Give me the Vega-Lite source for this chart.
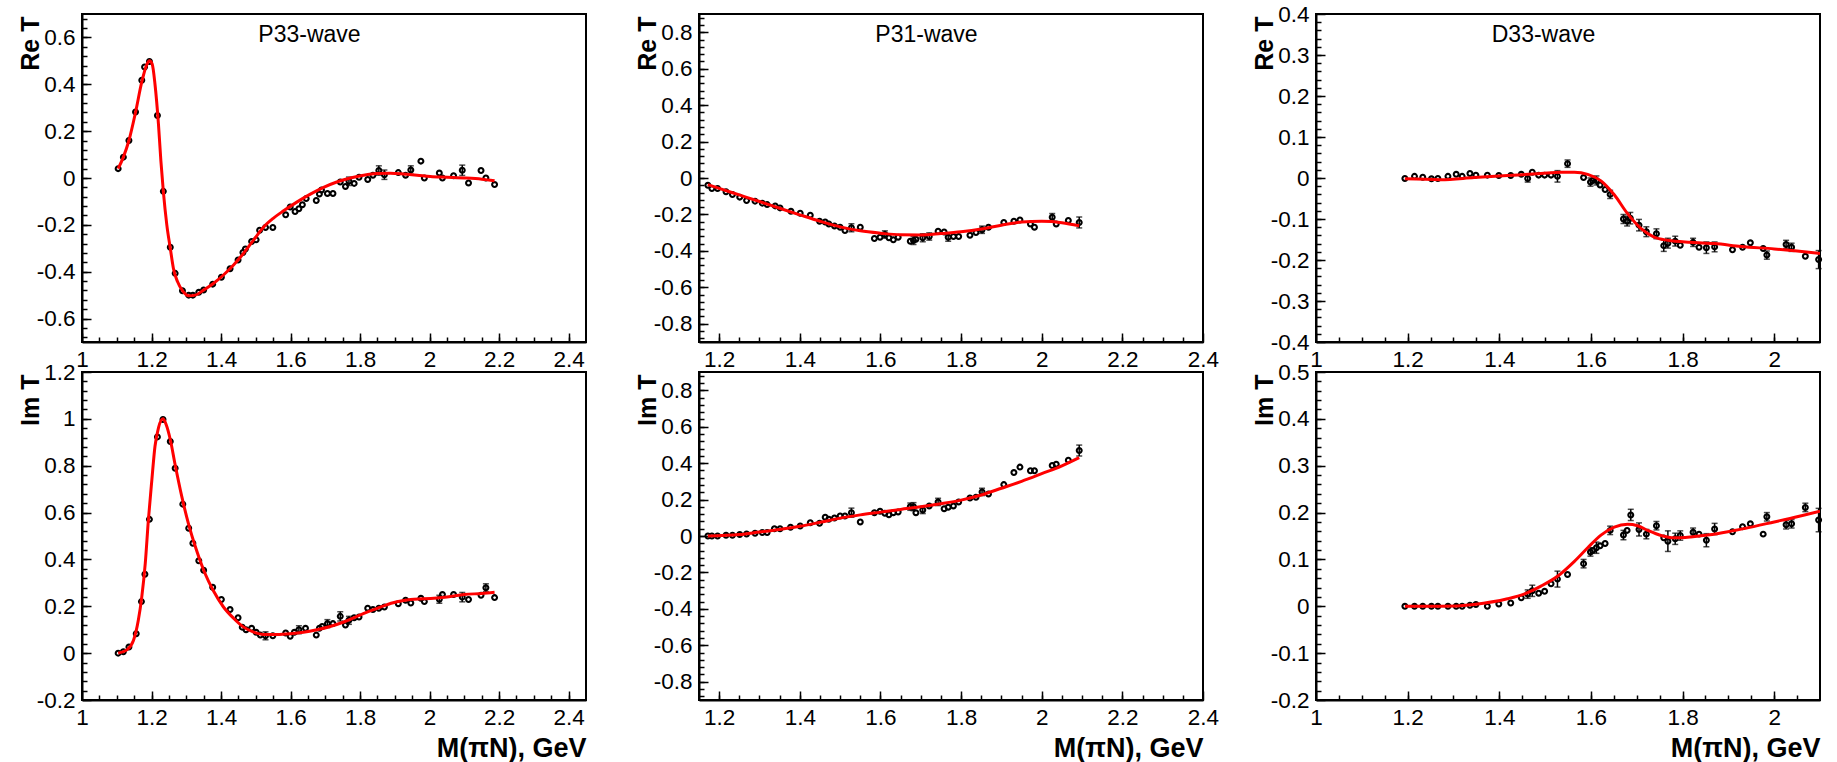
{
  "$schema": "https://vega.github.io/schema/vega-lite/v6.json",
  "padding": {"left": 17, "top": 2, "right": 5, "bottom": 0},
  "background": "white",
  "config": {
    "font": "Liberation Sans",
    "locale": {"number": {"decimal": ".", "thousands": ",", "grouping": [3], "currency": ["$", ""], "minus": "-"}},
    "view": {"stroke": "black", "strokeWidth": 2},
    "axis": {
      "grid": false,
      "domainColor": "black",
      "domainWidth": 2,
      "tickColor": "black",
      "tickWidth": 1.5,
      "labelFont": "Liberation Sans",
      "labelFontSize": 22.5,
      "labelColor": "black",
      "labelOverlap": false,
      "labelFlush": false,
      "titleFont": "Liberation Sans",
      "titleFontSize": 25,
      "titleFontWeight": "bold",
      "titleColor": "black"
    }
  },
  "datasets": {
    "p33re": [
      {"x":1.104,"y":0.040,"err":0},{"x":1.119,"y":0.089,"err":0},{"x":1.135,"y":0.160,"err":0},{"x":1.154,"y":0.282,"err":0},{"x":1.172,"y":0.417,"err":0},{"x":1.180,"y":0.474,"err":0},{"x":1.194,"y":0.497,"err":0},{"x":1.217,"y":0.267,"err":0},{"x":1.234,"y":-0.057,"err":0},{"x":1.254,"y":-0.296,"err":0},{"x":1.268,"y":-0.407,"err":0},{"x":1.289,"y":-0.481,"err":0},{"x":1.307,"y":-0.500,"err":0},{"x":1.319,"y":-0.500,"err":0},{"x":1.336,"y":-0.488,"err":0},{"x":1.350,"y":-0.478,"err":0},{"x":1.376,"y":-0.453,"err":0},{"x":1.401,"y":-0.424,"err":0},{"x":1.426,"y":-0.387,"err":0},{"x":1.449,"y":-0.350,"err":0},{"x":1.463,"y":-0.318,"err":0},{"x":1.470,"y":-0.303,"err":0},{"x":1.488,"y":-0.271,"err":0},{"x":1.501,"y":-0.264,"err":0},{"x":1.511,"y":-0.223,"err":0},{"x":1.528,"y":-0.211,"err":0},{"x":1.549,"y":-0.211,"err":0},{"x":1.586,"y":-0.157,"err":0},{"x":1.599,"y":-0.124,"err":0},{"x":1.613,"y":-0.143,"err":0},{"x":1.624,"y":-0.131,"err":0},{"x":1.634,"y":-0.114,"err":0},{"x":1.645,"y":-0.088,"err":0},{"x":1.674,"y":-0.096,"err":0},{"x":1.683,"y":-0.068,"err":0},{"x":1.689,"y":-0.051,"err":0},{"x":1.706,"y":-0.066,"err":0},{"x":1.722,"y":-0.066,"err":0},{"x":1.743,"y":-0.017,"err":0},{"x":1.758,"y":-0.036,"err":0},{"x":1.768,"y":-0.014,"err":0.018},{"x":1.783,"y":-0.023,"err":0},{"x":1.797,"y":0.003,"err":0},{"x":1.822,"y":-0.006,"err":0},{"x":1.837,"y":0.012,"err":0},{"x":1.854,"y":0.032,"err":0.02},{"x":1.870,"y":0.014,"err":0.02},{"x":1.910,"y":0.023,"err":0},{"x":1.931,"y":0.012,"err":0},{"x":1.946,"y":0.034,"err":0.018},{"x":1.975,"y":0.072,"err":0},{"x":1.985,"y":0.000,"err":0},{"x":2.028,"y":0.021,"err":0},{"x":2.037,"y":0.000,"err":0},{"x":2.069,"y":0.010,"err":0},{"x":2.094,"y":0.033,"err":0.022},{"x":2.112,"y":-0.021,"err":0},{"x":2.148,"y":0.032,"err":0},{"x":2.162,"y":0.000,"err":0},{"x":2.187,"y":-0.028,"err":0}
    ],
    "p33re_fit": [
      {"x":1.104,"y":0.040},{"x":1.119,"y":0.089},{"x":1.135,"y":0.160},{"x":1.154,"y":0.280},{"x":1.172,"y":0.410},{"x":1.187,"y":0.486},{"x":1.194,"y":0.500},{"x":1.202,"y":0.486},{"x":1.210,"y":0.400},{"x":1.220,"y":0.229},{"x":1.227,"y":0.072},{"x":1.234,"y":-0.057},{"x":1.244,"y":-0.200},{"x":1.254,"y":-0.300},{"x":1.263,"y":-0.386},{"x":1.275,"y":-0.443},{"x":1.290,"y":-0.483},{"x":1.307,"y":-0.503},{"x":1.326,"y":-0.500},{"x":1.350,"y":-0.478},{"x":1.378,"y":-0.450},{"x":1.407,"y":-0.414},{"x":1.436,"y":-0.371},{"x":1.465,"y":-0.321},{"x":1.494,"y":-0.264},{"x":1.522,"y":-0.210},{"x":1.551,"y":-0.171},{"x":1.580,"y":-0.140},{"x":1.618,"y":-0.103},{"x":1.657,"y":-0.069},{"x":1.695,"y":-0.040},{"x":1.733,"y":-0.017},{"x":1.772,"y":0.000},{"x":1.810,"y":0.012},{"x":1.848,"y":0.019},{"x":1.887,"y":0.020},{"x":1.925,"y":0.017},{"x":1.964,"y":0.012},{"x":2.002,"y":0.006},{"x":2.05,"y":0.003},{"x":2.1,"y":0.000},{"x":2.15,"y":-0.005},{"x":2.187,"y":-0.012}
    ],
    "p33im": [
      {"x":1.104,"y":0.000,"err":0},{"x":1.119,"y":0.006,"err":0},{"x":1.135,"y":0.026,"err":0},{"x":1.156,"y":0.083,"err":0},{"x":1.171,"y":0.220,"err":0},{"x":1.181,"y":0.337,"err":0},{"x":1.194,"y":0.571,"err":0},{"x":1.217,"y":0.923,"err":0},{"x":1.233,"y":0.997,"err":0},{"x":1.254,"y":0.903,"err":0},{"x":1.268,"y":0.789,"err":0},{"x":1.290,"y":0.636,"err":0},{"x":1.307,"y":0.533,"err":0},{"x":1.319,"y":0.469,"err":0},{"x":1.336,"y":0.394,"err":0},{"x":1.350,"y":0.354,"err":0},{"x":1.376,"y":0.281,"err":0},{"x":1.401,"y":0.229,"err":0},{"x":1.426,"y":0.186,"err":0},{"x":1.449,"y":0.151,"err":0},{"x":1.461,"y":0.111,"err":0},{"x":1.472,"y":0.100,"err":0},{"x":1.488,"y":0.106,"err":0},{"x":1.501,"y":0.089,"err":0},{"x":1.513,"y":0.077,"err":0},{"x":1.528,"y":0.074,"err":0.017},{"x":1.549,"y":0.074,"err":0},{"x":1.586,"y":0.086,"err":0},{"x":1.599,"y":0.072,"err":0},{"x":1.611,"y":0.089,"err":0},{"x":1.624,"y":0.100,"err":0.017},{"x":1.643,"y":0.106,"err":0},{"x":1.674,"y":0.077,"err":0},{"x":1.683,"y":0.106,"err":0},{"x":1.691,"y":0.114,"err":0},{"x":1.706,"y":0.126,"err":0.017},{"x":1.722,"y":0.126,"err":0},{"x":1.743,"y":0.157,"err":0.02},{"x":1.758,"y":0.120,"err":0},{"x":1.768,"y":0.140,"err":0.017},{"x":1.783,"y":0.151,"err":0},{"x":1.797,"y":0.154,"err":0},{"x":1.822,"y":0.192,"err":0},{"x":1.837,"y":0.186,"err":0},{"x":1.854,"y":0.192,"err":0},{"x":1.870,"y":0.197,"err":0},{"x":1.910,"y":0.211,"err":0},{"x":1.931,"y":0.226,"err":0},{"x":1.946,"y":0.214,"err":0},{"x":1.975,"y":0.234,"err":0},{"x":1.985,"y":0.220,"err":0},{"x":2.028,"y":0.230,"err":0.017},{"x":2.037,"y":0.250,"err":0},{"x":2.069,"y":0.250,"err":0},{"x":2.094,"y":0.239,"err":0.02},{"x":2.112,"y":0.229,"err":0},{"x":2.148,"y":0.247,"err":0},{"x":2.162,"y":0.279,"err":0.017},{"x":2.187,"y":0.237,"err":0}
    ],
    "p33im_fit": [
      {"x":1.104,"y":0.000},{"x":1.129,"y":0.014},{"x":1.148,"y":0.054},{"x":1.162,"y":0.140},{"x":1.172,"y":0.240},{"x":1.182,"y":0.383},{"x":1.191,"y":0.569},{"x":1.201,"y":0.740},{"x":1.210,"y":0.883},{"x":1.220,"y":0.962},{"x":1.233,"y":1.000},{"x":1.242,"y":0.976},{"x":1.254,"y":0.912},{"x":1.268,"y":0.804},{"x":1.287,"y":0.669},{"x":1.306,"y":0.554},{"x":1.330,"y":0.437},{"x":1.354,"y":0.340},{"x":1.378,"y":0.266},{"x":1.407,"y":0.197},{"x":1.436,"y":0.149},{"x":1.465,"y":0.111},{"x":1.494,"y":0.090},{"x":1.522,"y":0.080},{"x":1.561,"y":0.080},{"x":1.599,"y":0.083},{"x":1.637,"y":0.089},{"x":1.676,"y":0.100},{"x":1.714,"y":0.114},{"x":1.753,"y":0.133},{"x":1.791,"y":0.157},{"x":1.829,"y":0.180},{"x":1.868,"y":0.202},{"x":1.906,"y":0.219},{"x":1.945,"y":0.229},{"x":1.983,"y":0.232},{"x":2.05,"y":0.240},{"x":2.1,"y":0.250},{"x":2.15,"y":0.255},{"x":2.187,"y":0.260}
    ],
    "p31re": [
      {"x":1.172,"y":-0.040,"err":0},{"x":1.182,"y":-0.058,"err":0},{"x":1.196,"y":-0.058,"err":0},{"x":1.217,"y":-0.076,"err":0},{"x":1.233,"y":-0.091,"err":0},{"x":1.251,"y":-0.105,"err":0},{"x":1.268,"y":-0.124,"err":0},{"x":1.289,"y":-0.127,"err":0},{"x":1.307,"y":-0.138,"err":0},{"x":1.319,"y":-0.146,"err":0},{"x":1.339,"y":-0.153,"err":0},{"x":1.351,"y":-0.164,"err":0},{"x":1.378,"y":-0.182,"err":0},{"x":1.401,"y":-0.193,"err":0},{"x":1.426,"y":-0.204,"err":0},{"x":1.449,"y":-0.237,"err":0},{"x":1.463,"y":-0.241,"err":0},{"x":1.472,"y":-0.252,"err":0},{"x":1.486,"y":-0.263,"err":0},{"x":1.500,"y":-0.270,"err":0},{"x":1.512,"y":-0.288,"err":0},{"x":1.528,"y":-0.273,"err":0.022},{"x":1.550,"y":-0.270,"err":0},{"x":1.585,"y":-0.332,"err":0},{"x":1.599,"y":-0.325,"err":0},{"x":1.611,"y":-0.310,"err":0.02},{"x":1.621,"y":-0.328,"err":0},{"x":1.632,"y":-0.339,"err":0},{"x":1.644,"y":-0.325,"err":0},{"x":1.674,"y":-0.347,"err":0},{"x":1.682,"y":-0.343,"err":0.022},{"x":1.688,"y":-0.336,"err":0},{"x":1.705,"y":-0.328,"err":0.022},{"x":1.721,"y":-0.321,"err":0.02},{"x":1.743,"y":-0.292,"err":0},{"x":1.758,"y":-0.296,"err":0},{"x":1.768,"y":-0.325,"err":0.022},{"x":1.781,"y":-0.321,"err":0},{"x":1.794,"y":-0.321,"err":0},{"x":1.822,"y":-0.314,"err":0},{"x":1.837,"y":-0.299,"err":0},{"x":1.852,"y":-0.284,"err":0.02},{"x":1.868,"y":-0.270,"err":0},{"x":1.906,"y":-0.244,"err":0},{"x":1.931,"y":-0.237,"err":0},{"x":1.946,"y":-0.230,"err":0},{"x":1.972,"y":-0.252,"err":0},{"x":1.982,"y":-0.270,"err":0},{"x":2.026,"y":-0.215,"err":0.02},{"x":2.036,"y":-0.252,"err":0},{"x":2.066,"y":-0.233,"err":0},{"x":2.093,"y":-0.244,"err":0.03}
    ],
    "p31re_fit": [
      {"x":1.172,"y":-0.036},{"x":1.2,"y":-0.057},{"x":1.25,"y":-0.093},{"x":1.3,"y":-0.129},{"x":1.35,"y":-0.166},{"x":1.4,"y":-0.202},{"x":1.45,"y":-0.237},{"x":1.5,"y":-0.268},{"x":1.55,"y":-0.290},{"x":1.6,"y":-0.303},{"x":1.65,"y":-0.312},{"x":1.7,"y":-0.313},{"x":1.75,"y":-0.305},{"x":1.8,"y":-0.295},{"x":1.85,"y":-0.280},{"x":1.9,"y":-0.259},{"x":1.95,"y":-0.242},{"x":2.0,"y":-0.238},{"x":2.05,"y":-0.245},{"x":2.093,"y":-0.262}
    ],
    "p31im": [
      {"x":1.172,"y":0.000,"err":0},{"x":1.182,"y":0.000,"err":0},{"x":1.196,"y":0.000,"err":0},{"x":1.217,"y":0.004,"err":0},{"x":1.233,"y":0.004,"err":0},{"x":1.251,"y":0.008,"err":0},{"x":1.268,"y":0.011,"err":0},{"x":1.289,"y":0.015,"err":0},{"x":1.307,"y":0.019,"err":0},{"x":1.319,"y":0.019,"err":0},{"x":1.337,"y":0.040,"err":0},{"x":1.351,"y":0.040,"err":0},{"x":1.377,"y":0.048,"err":0},{"x":1.401,"y":0.055,"err":0},{"x":1.426,"y":0.073,"err":0},{"x":1.449,"y":0.070,"err":0},{"x":1.463,"y":0.103,"err":0},{"x":1.472,"y":0.092,"err":0},{"x":1.486,"y":0.099,"err":0},{"x":1.500,"y":0.110,"err":0},{"x":1.512,"y":0.110,"err":0},{"x":1.528,"y":0.128,"err":0.025},{"x":1.550,"y":0.077,"err":0},{"x":1.585,"y":0.128,"err":0},{"x":1.599,"y":0.136,"err":0},{"x":1.611,"y":0.125,"err":0},{"x":1.621,"y":0.117,"err":0},{"x":1.632,"y":0.128,"err":0},{"x":1.644,"y":0.132,"err":0},{"x":1.674,"y":0.161,"err":0.02},{"x":1.682,"y":0.161,"err":0.022},{"x":1.688,"y":0.128,"err":0},{"x":1.705,"y":0.143,"err":0.02},{"x":1.721,"y":0.165,"err":0},{"x":1.743,"y":0.187,"err":0.02},{"x":1.758,"y":0.150,"err":0},{"x":1.768,"y":0.158,"err":0},{"x":1.781,"y":0.165,"err":0},{"x":1.794,"y":0.187,"err":0},{"x":1.822,"y":0.209,"err":0},{"x":1.837,"y":0.213,"err":0},{"x":1.852,"y":0.242,"err":0.02},{"x":1.868,"y":0.231,"err":0},{"x":1.906,"y":0.282,"err":0},{"x":1.931,"y":0.348,"err":0},{"x":1.946,"y":0.378,"err":0},{"x":1.972,"y":0.358,"err":0},{"x":1.982,"y":0.358,"err":0},{"x":2.026,"y":0.387,"err":0},{"x":2.036,"y":0.394,"err":0},{"x":2.066,"y":0.416,"err":0},{"x":2.093,"y":0.469,"err":0.03}
    ],
    "p31im_fit": [
      {"x":1.172,"y":0.000},{"x":1.25,"y":0.008},{"x":1.3,"y":0.022},{"x":1.35,"y":0.036},{"x":1.4,"y":0.053},{"x":1.45,"y":0.075},{"x":1.5,"y":0.098},{"x":1.55,"y":0.116},{"x":1.6,"y":0.131},{"x":1.65,"y":0.146},{"x":1.7,"y":0.160},{"x":1.75,"y":0.177},{"x":1.8,"y":0.197},{"x":1.85,"y":0.225},{"x":1.9,"y":0.262},{"x":1.95,"y":0.300},{"x":2.0,"y":0.342},{"x":2.05,"y":0.385},{"x":2.093,"y":0.430}
    ],
    "d33re": [
      {"x":1.194,"y":-0.001,"err":0},{"x":1.215,"y":0.004,"err":0},{"x":1.233,"y":0.002,"err":0},{"x":1.252,"y":-0.002,"err":0},{"x":1.266,"y":-0.001,"err":0},{"x":1.288,"y":0.004,"err":0},{"x":1.306,"y":0.009,"err":0},{"x":1.319,"y":0.004,"err":0},{"x":1.336,"y":0.011,"err":0},{"x":1.349,"y":0.007,"err":0},{"x":1.374,"y":0.007,"err":0},{"x":1.399,"y":0.006,"err":0},{"x":1.425,"y":0.006,"err":0},{"x":1.448,"y":0.009,"err":0},{"x":1.462,"y":-0.001,"err":0.009},{"x":1.472,"y":0.014,"err":0},{"x":1.486,"y":0.007,"err":0},{"x":1.499,"y":0.007,"err":0},{"x":1.513,"y":0.007,"err":0},{"x":1.527,"y":0.004,"err":0.014},{"x":1.549,"y":0.035,"err":0.009},{"x":1.584,"y":0.001,"err":0},{"x":1.599,"y":-0.010,"err":0.01},{"x":1.604,"y":-0.006,"err":0},{"x":1.612,"y":-0.006,"err":0.011},{"x":1.620,"y":-0.017,"err":0},{"x":1.631,"y":-0.028,"err":0},{"x":1.642,"y":-0.040,"err":0.01},{"x":1.671,"y":-0.100,"err":0.011},{"x":1.679,"y":-0.105,"err":0.012},{"x":1.686,"y":-0.098,"err":0.014},{"x":1.705,"y":-0.115,"err":0.014},{"x":1.721,"y":-0.131,"err":0.012},{"x":1.743,"y":-0.136,"err":0.012},{"x":1.759,"y":-0.165,"err":0.014},{"x":1.768,"y":-0.159,"err":0.012},{"x":1.784,"y":-0.154,"err":0.012},{"x":1.795,"y":-0.164,"err":0},{"x":1.823,"y":-0.157,"err":0.01},{"x":1.836,"y":-0.169,"err":0},{"x":1.852,"y":-0.170,"err":0.014},{"x":1.870,"y":-0.168,"err":0.012},{"x":1.909,"y":-0.175,"err":0},{"x":1.931,"y":-0.169,"err":0},{"x":1.948,"y":-0.158,"err":0},{"x":1.976,"y":-0.172,"err":0},{"x":1.984,"y":-0.188,"err":0.01},{"x":2.026,"y":-0.162,"err":0.01},{"x":2.038,"y":-0.169,"err":0.01},{"x":2.068,"y":-0.191,"err":0},{"x":2.097,"y":-0.199,"err":0.022}
    ],
    "d33re_fit": [
      {"x":1.194,"y":-0.002},{"x":1.272,"y":-0.004},{"x":1.345,"y":0.001},{"x":1.418,"y":0.006},{"x":1.491,"y":0.011},{"x":1.534,"y":0.014},{"x":1.564,"y":0.014},{"x":1.593,"y":0.009},{"x":1.622,"y":-0.007},{"x":1.651,"y":-0.041},{"x":1.680,"y":-0.087},{"x":1.709,"y":-0.123},{"x":1.738,"y":-0.144},{"x":1.768,"y":-0.152},{"x":1.818,"y":-0.157},{"x":1.870,"y":-0.160},{"x":1.928,"y":-0.167},{"x":2.0,"y":-0.173},{"x":2.05,"y":-0.178},{"x":2.1,"y":-0.184}
    ],
    "d33im": [
      {"x":1.194,"y":0.000,"err":0},{"x":1.215,"y":0.000,"err":0},{"x":1.233,"y":0.000,"err":0},{"x":1.252,"y":0.000,"err":0},{"x":1.266,"y":0.000,"err":0},{"x":1.288,"y":0.000,"err":0},{"x":1.306,"y":0.000,"err":0},{"x":1.319,"y":0.000,"err":0},{"x":1.336,"y":0.002,"err":0},{"x":1.349,"y":0.004,"err":0},{"x":1.374,"y":0.000,"err":0},{"x":1.399,"y":0.005,"err":0},{"x":1.425,"y":0.007,"err":0},{"x":1.448,"y":0.018,"err":0},{"x":1.462,"y":0.026,"err":0.009},{"x":1.472,"y":0.033,"err":0.012},{"x":1.486,"y":0.028,"err":0},{"x":1.499,"y":0.032,"err":0},{"x":1.513,"y":0.048,"err":0},{"x":1.527,"y":0.058,"err":0.017},{"x":1.549,"y":0.068,"err":0},{"x":1.584,"y":0.091,"err":0.009},{"x":1.599,"y":0.116,"err":0.009},{"x":1.604,"y":0.119,"err":0},{"x":1.612,"y":0.125,"err":0.012},{"x":1.620,"y":0.129,"err":0},{"x":1.631,"y":0.134,"err":0},{"x":1.642,"y":0.162,"err":0.009},{"x":1.671,"y":0.152,"err":0.01},{"x":1.679,"y":0.162,"err":0},{"x":1.687,"y":0.195,"err":0.012},{"x":1.705,"y":0.164,"err":0.014},{"x":1.721,"y":0.154,"err":0.01},{"x":1.743,"y":0.172,"err":0.009},{"x":1.759,"y":0.146,"err":0},{"x":1.768,"y":0.139,"err":0.022},{"x":1.784,"y":0.144,"err":0.012},{"x":1.795,"y":0.151,"err":0.01},{"x":1.823,"y":0.158,"err":0.009},{"x":1.836,"y":0.154,"err":0},{"x":1.852,"y":0.141,"err":0.014},{"x":1.870,"y":0.165,"err":0.012},{"x":1.909,"y":0.159,"err":0},{"x":1.931,"y":0.170,"err":0},{"x":1.948,"y":0.176,"err":0},{"x":1.976,"y":0.154,"err":0},{"x":1.984,"y":0.191,"err":0.009},{"x":2.026,"y":0.174,"err":0.009},{"x":2.038,"y":0.176,"err":0.009},{"x":2.068,"y":0.211,"err":0.009},{"x":2.097,"y":0.184,"err":0.025}
    ],
    "d33im_fit": [
      {"x":1.194,"y":0.000},{"x":1.272,"y":0.000},{"x":1.345,"y":0.004},{"x":1.418,"y":0.016},{"x":1.454,"y":0.026},{"x":1.491,"y":0.043},{"x":1.527,"y":0.064},{"x":1.564,"y":0.096},{"x":1.593,"y":0.125},{"x":1.622,"y":0.152},{"x":1.651,"y":0.169},{"x":1.680,"y":0.175},{"x":1.702,"y":0.172},{"x":1.724,"y":0.162},{"x":1.753,"y":0.151},{"x":1.782,"y":0.146},{"x":1.818,"y":0.148},{"x":1.855,"y":0.152},{"x":1.899,"y":0.159},{"x":1.935,"y":0.166},{"x":2.0,"y":0.180},{"x":2.05,"y":0.191},{"x":2.1,"y":0.203}
    ]
  },
  "columns": 3,
  "bounds": "flush",
  "spacing": {"row": 30, "column": 113},
  "concat": [
    {
      "width": 504, "height": 328,
      "resolve": {"axis": {"x": "independent", "y": "independent"}},
      "layer": [
        {"data": {"name": "p33re"}, "mark": {"type": "point", "shape": "circle", "filled": false, "color": "black", "size": 24, "strokeWidth": 2.1, "opacity": 1},
         "encoding": {
           "x": {"field": "x", "type": "quantitative", "scale": {"domain": [1, 2.45], "nice": false, "zero": false},
                 "axis": {"orient": "bottom", "values": [1,1.2,1.4,1.6,1.8,2,2.2,2.4], "format": "~g", "title": null, "tickSize": -9, "labelPadding": 15}},
           "y": {"field": "y", "type": "quantitative", "scale": {"domain": [-0.7, 0.7], "nice": false, "zero": false},
                 "axis": {"orient": "left", "values": [-0.6,-0.4,-0.2,0,0.2,0.4,0.6], "format": "~g", "title": "Re T", "tickSize": -9, "labelPadding": 16, "titleX": -44, "titleY": 2, "titleAngle": -90, "titleAlign": "right", "titleBaseline": "alphabetic"}}
         }},
        {"data": {"name": "p33re"}, "transform": [{"filter": "datum.err > 0"}], "mark": {"type": "errorbar", "ticks": {"size": 6}, "color": "black", "thickness": 1.5},
         "encoding": {
           "x": {"field": "x", "type": "quantitative", "scale": {"domain": [1, 2.45], "nice": false, "zero": false},
                 "axis": {"orient": "top", "ticks": false, "labels": false, "domain": false, "title": "P33-wave", "titleX": 227, "titleY": 27, "titleAlign": "center", "titleBaseline": "alphabetic", "titleAngle": 0, "titleFontWeight": "normal", "titleFontSize": 23}},
           "y": {"field": "y", "type": "quantitative", "scale": {"domain": [-0.7, 0.7], "nice": false, "zero": false}, "axis": null},
           "yError": {"field": "err"}
         }},
        {"data": {"name": "p33re_fit"}, "mark": {"type": "line", "color": "red", "strokeWidth": 3, "interpolate": "monotone", "clip": true},
         "encoding": {
           "x": {"field": "x", "type": "quantitative", "scale": {"domain": [1, 2.45], "nice": false, "zero": false},
                 "axis": {"orient": "bottom", "values": [1.05,1.1,1.15,1.2,1.25,1.3,1.35,1.4,1.45,1.5,1.55,1.6,1.65,1.7,1.75,1.8,1.85,1.9,1.95,2,2.05,2.1,2.15,2.2,2.25,2.3,2.35,2.4], "labels": false, "domain": false, "title": null, "tickSize": -5}},
           "y": {"field": "y", "type": "quantitative", "scale": {"domain": [-0.7, 0.7], "nice": false, "zero": false},
                 "axis": {"orient": "left", "values": [-0.68,-0.64,-0.6,-0.56,-0.52,-0.48,-0.44,-0.4,-0.36,-0.32,-0.28,-0.24,-0.2,-0.16,-0.12,-0.08,-0.04,0,0.04,0.08,0.12,0.16,0.2,0.24,0.28,0.32,0.36,0.4,0.44,0.48,0.52,0.56,0.6,0.64,0.68], "labels": false, "domain": false, "title": null, "tickSize": -5}}
         }}
      ]
    },
    {
      "width": 504, "height": 328,
      "resolve": {"axis": {"x": "independent", "y": "independent"}},
      "layer": [
        {"data": {"name": "p31re"}, "mark": {"type": "point", "shape": "circle", "filled": false, "color": "black", "size": 24, "strokeWidth": 2.1, "opacity": 1},
         "encoding": {
           "x": {"field": "x", "type": "quantitative", "scale": {"domain": [1.15, 2.4], "nice": false, "zero": false},
                 "axis": {"orient": "bottom", "values": [1.2,1.4,1.6,1.8,2,2.2,2.4], "format": "~g", "title": null, "tickSize": -9, "labelPadding": 15}},
           "y": {"field": "y", "type": "quantitative", "scale": {"domain": [-0.9, 0.9], "nice": false, "zero": false},
                 "axis": {"orient": "left", "values": [-0.8,-0.6,-0.4,-0.2,0,0.2,0.4,0.6,0.8], "format": "~g", "title": "Re T", "tickSize": -9, "labelPadding": 16, "titleX": -44, "titleY": 2, "titleAngle": -90, "titleAlign": "right", "titleBaseline": "alphabetic"}}
         }},
        {"data": {"name": "p31re"}, "transform": [{"filter": "datum.err > 0"}], "mark": {"type": "errorbar", "ticks": {"size": 6}, "color": "black", "thickness": 1.5},
         "encoding": {
           "x": {"field": "x", "type": "quantitative", "scale": {"domain": [1.15, 2.4], "nice": false, "zero": false},
                 "axis": {"orient": "top", "ticks": false, "labels": false, "domain": false, "title": "P31-wave", "titleX": 227, "titleY": 27, "titleAlign": "center", "titleBaseline": "alphabetic", "titleAngle": 0, "titleFontWeight": "normal", "titleFontSize": 23}},
           "y": {"field": "y", "type": "quantitative", "scale": {"domain": [-0.9, 0.9], "nice": false, "zero": false}, "axis": null},
           "yError": {"field": "err"}
         }},
        {"data": {"name": "p31re_fit"}, "mark": {"type": "line", "color": "red", "strokeWidth": 3, "interpolate": "monotone", "clip": true},
         "encoding": {
           "x": {"field": "x", "type": "quantitative", "scale": {"domain": [1.15, 2.4], "nice": false, "zero": false},
                 "axis": {"orient": "bottom", "values": [1.2,1.25,1.3,1.35,1.4,1.45,1.5,1.55,1.6,1.65,1.7,1.75,1.8,1.85,1.9,1.95,2,2.05,2.1,2.15,2.2,2.25,2.3,2.35], "labels": false, "domain": false, "title": null, "tickSize": -5}},
           "y": {"field": "y", "type": "quantitative", "scale": {"domain": [-0.9, 0.9], "nice": false, "zero": false},
                 "axis": {"orient": "left", "values": [-0.88,-0.84,-0.8,-0.76,-0.72,-0.68,-0.64,-0.6,-0.56,-0.52,-0.48,-0.44,-0.4,-0.36,-0.32,-0.28,-0.24,-0.2,-0.16,-0.12,-0.08,-0.04,0,0.04,0.08,0.12,0.16,0.2,0.24,0.28,0.32,0.36,0.4,0.44,0.48,0.52,0.56,0.6,0.64,0.68,0.72,0.76,0.8,0.84,0.88], "labels": false, "domain": false, "title": null, "tickSize": -5}}
         }}
      ]
    },
    {
      "width": 504, "height": 328,
      "resolve": {"axis": {"x": "independent", "y": "independent"}},
      "layer": [
        {"data": {"name": "d33re"}, "mark": {"type": "point", "shape": "circle", "filled": false, "color": "black", "size": 24, "strokeWidth": 2.1, "opacity": 1},
         "encoding": {
           "x": {"field": "x", "type": "quantitative", "scale": {"domain": [1, 2.1], "nice": false, "zero": false},
                 "axis": {"orient": "bottom", "values": [1,1.2,1.4,1.6,1.8,2], "format": "~g", "title": null, "tickSize": -9, "labelPadding": 15}},
           "y": {"field": "y", "type": "quantitative", "scale": {"domain": [-0.4, 0.4], "nice": false, "zero": false},
                 "axis": {"orient": "left", "values": [-0.4,-0.3,-0.2,-0.1,0,0.1,0.2,0.3,0.4], "format": "~g", "title": "Re T", "tickSize": -9, "labelPadding": 16, "titleX": -44, "titleY": 2, "titleAngle": -90, "titleAlign": "right", "titleBaseline": "alphabetic"}}
         }},
        {"data": {"name": "d33re"}, "transform": [{"filter": "datum.err > 0"}], "mark": {"type": "errorbar", "ticks": {"size": 6}, "color": "black", "thickness": 1.5},
         "encoding": {
           "x": {"field": "x", "type": "quantitative", "scale": {"domain": [1, 2.1], "nice": false, "zero": false},
                 "axis": {"orient": "top", "ticks": false, "labels": false, "domain": false, "title": "D33-wave", "titleX": 227, "titleY": 27, "titleAlign": "center", "titleBaseline": "alphabetic", "titleAngle": 0, "titleFontWeight": "normal", "titleFontSize": 23}},
           "y": {"field": "y", "type": "quantitative", "scale": {"domain": [-0.4, 0.4], "nice": false, "zero": false}, "axis": null},
           "yError": {"field": "err"}
         }},
        {"data": {"name": "d33re_fit"}, "mark": {"type": "line", "color": "red", "strokeWidth": 3, "interpolate": "monotone", "clip": true},
         "encoding": {
           "x": {"field": "x", "type": "quantitative", "scale": {"domain": [1, 2.1], "nice": false, "zero": false},
                 "axis": {"orient": "bottom", "values": [1.05,1.1,1.15,1.2,1.25,1.3,1.35,1.4,1.45,1.5,1.55,1.6,1.65,1.7,1.75,1.8,1.85,1.9,1.95,2,2.05], "labels": false, "domain": false, "title": null, "tickSize": -5}},
           "y": {"field": "y", "type": "quantitative", "scale": {"domain": [-0.4, 0.4], "nice": false, "zero": false},
                 "axis": {"orient": "left", "values": [-0.38,-0.36,-0.34,-0.32,-0.3,-0.28,-0.26,-0.24,-0.22,-0.2,-0.18,-0.16,-0.14,-0.12,-0.1,-0.08,-0.06,-0.04,-0.02,0,0.02,0.04,0.06,0.08,0.1,0.12,0.14,0.16,0.18,0.2,0.22,0.24,0.26,0.28,0.3,0.32,0.34,0.36,0.38], "labels": false, "domain": false, "title": null, "tickSize": -5}}
         }}
      ]
    },
    {
      "width": 504, "height": 328,
      "resolve": {"axis": {"x": "independent", "y": "independent"}},
      "layer": [
        {"data": {"name": "p33im"}, "mark": {"type": "point", "shape": "circle", "filled": false, "color": "black", "size": 24, "strokeWidth": 2.1, "opacity": 1},
         "encoding": {
           "x": {"field": "x", "type": "quantitative", "scale": {"domain": [1, 2.45], "nice": false, "zero": false},
                 "axis": {"orient": "bottom", "values": [1,1.2,1.4,1.6,1.8,2,2.2,2.4], "format": "~g", "title": "M(πN), GeV", "titleFontSize": 27, "tickSize": -9, "labelPadding": 15, "titleX": 504, "titleY": 56, "titleAlign": "right", "titleBaseline": "alphabetic", "titleAngle": 0}},
           "y": {"field": "y", "type": "quantitative", "scale": {"domain": [-0.2, 1.2], "nice": false, "zero": false},
                 "axis": {"orient": "left", "values": [-0.2,0,0.2,0.4,0.6,0.8,1,1.2], "format": "~g", "title": "Im T", "tickSize": -9, "labelPadding": 16, "titleX": -44, "titleY": 2, "titleAngle": -90, "titleAlign": "right", "titleBaseline": "alphabetic"}}
         }},
        {"data": {"name": "p33im"}, "transform": [{"filter": "datum.err > 0"}], "mark": {"type": "errorbar", "ticks": {"size": 6}, "color": "black", "thickness": 1.5},
         "encoding": {
           "x": {"field": "x", "type": "quantitative", "scale": {"domain": [1, 2.45], "nice": false, "zero": false}, "axis": null},
           "y": {"field": "y", "type": "quantitative", "scale": {"domain": [-0.2, 1.2], "nice": false, "zero": false}, "axis": null},
           "yError": {"field": "err"}
         }},
        {"data": {"name": "p33im_fit"}, "mark": {"type": "line", "color": "red", "strokeWidth": 3, "interpolate": "monotone", "clip": true},
         "encoding": {
           "x": {"field": "x", "type": "quantitative", "scale": {"domain": [1, 2.45], "nice": false, "zero": false},
                 "axis": {"orient": "bottom", "values": [1.05,1.1,1.15,1.2,1.25,1.3,1.35,1.4,1.45,1.5,1.55,1.6,1.65,1.7,1.75,1.8,1.85,1.9,1.95,2,2.05,2.1,2.15,2.2,2.25,2.3,2.35,2.4], "labels": false, "domain": false, "title": null, "tickSize": -5}},
           "y": {"field": "y", "type": "quantitative", "scale": {"domain": [-0.2, 1.2], "nice": false, "zero": false},
                 "axis": {"orient": "left", "values": [-0.16,-0.12,-0.08,-0.04,0,0.04,0.08,0.12,0.16,0.2,0.24,0.28,0.32,0.36,0.4,0.44,0.48,0.52,0.56,0.6,0.64,0.68,0.72,0.76,0.8,0.84,0.88,0.92,0.96,1,1.04,1.08,1.12,1.16], "labels": false, "domain": false, "title": null, "tickSize": -5}}
         }}
      ]
    },
    {
      "width": 504, "height": 328,
      "resolve": {"axis": {"x": "independent", "y": "independent"}},
      "layer": [
        {"data": {"name": "p31im"}, "mark": {"type": "point", "shape": "circle", "filled": false, "color": "black", "size": 24, "strokeWidth": 2.1, "opacity": 1},
         "encoding": {
           "x": {"field": "x", "type": "quantitative", "scale": {"domain": [1.15, 2.4], "nice": false, "zero": false},
                 "axis": {"orient": "bottom", "values": [1.2,1.4,1.6,1.8,2,2.2,2.4], "format": "~g", "title": "M(πN), GeV", "titleFontSize": 27, "tickSize": -9, "labelPadding": 15, "titleX": 504, "titleY": 56, "titleAlign": "right", "titleBaseline": "alphabetic", "titleAngle": 0}},
           "y": {"field": "y", "type": "quantitative", "scale": {"domain": [-0.9, 0.9], "nice": false, "zero": false},
                 "axis": {"orient": "left", "values": [-0.8,-0.6,-0.4,-0.2,0,0.2,0.4,0.6,0.8], "format": "~g", "title": "Im T", "tickSize": -9, "labelPadding": 16, "titleX": -44, "titleY": 2, "titleAngle": -90, "titleAlign": "right", "titleBaseline": "alphabetic"}}
         }},
        {"data": {"name": "p31im"}, "transform": [{"filter": "datum.err > 0"}], "mark": {"type": "errorbar", "ticks": {"size": 6}, "color": "black", "thickness": 1.5},
         "encoding": {
           "x": {"field": "x", "type": "quantitative", "scale": {"domain": [1.15, 2.4], "nice": false, "zero": false}, "axis": null},
           "y": {"field": "y", "type": "quantitative", "scale": {"domain": [-0.9, 0.9], "nice": false, "zero": false}, "axis": null},
           "yError": {"field": "err"}
         }},
        {"data": {"name": "p31im_fit"}, "mark": {"type": "line", "color": "red", "strokeWidth": 3, "interpolate": "monotone", "clip": true},
         "encoding": {
           "x": {"field": "x", "type": "quantitative", "scale": {"domain": [1.15, 2.4], "nice": false, "zero": false},
                 "axis": {"orient": "bottom", "values": [1.2,1.25,1.3,1.35,1.4,1.45,1.5,1.55,1.6,1.65,1.7,1.75,1.8,1.85,1.9,1.95,2,2.05,2.1,2.15,2.2,2.25,2.3,2.35], "labels": false, "domain": false, "title": null, "tickSize": -5}},
           "y": {"field": "y", "type": "quantitative", "scale": {"domain": [-0.9, 0.9], "nice": false, "zero": false},
                 "axis": {"orient": "left", "values": [-0.88,-0.84,-0.8,-0.76,-0.72,-0.68,-0.64,-0.6,-0.56,-0.52,-0.48,-0.44,-0.4,-0.36,-0.32,-0.28,-0.24,-0.2,-0.16,-0.12,-0.08,-0.04,0,0.04,0.08,0.12,0.16,0.2,0.24,0.28,0.32,0.36,0.4,0.44,0.48,0.52,0.56,0.6,0.64,0.68,0.72,0.76,0.8,0.84,0.88], "labels": false, "domain": false, "title": null, "tickSize": -5}}
         }}
      ]
    },
    {
      "width": 504, "height": 328,
      "resolve": {"axis": {"x": "independent", "y": "independent"}},
      "layer": [
        {"data": {"name": "d33im"}, "mark": {"type": "point", "shape": "circle", "filled": false, "color": "black", "size": 24, "strokeWidth": 2.1, "opacity": 1},
         "encoding": {
           "x": {"field": "x", "type": "quantitative", "scale": {"domain": [1, 2.1], "nice": false, "zero": false},
                 "axis": {"orient": "bottom", "values": [1,1.2,1.4,1.6,1.8,2], "format": "~g", "title": "M(πN), GeV", "titleFontSize": 27, "tickSize": -9, "labelPadding": 15, "titleX": 504, "titleY": 56, "titleAlign": "right", "titleBaseline": "alphabetic", "titleAngle": 0}},
           "y": {"field": "y", "type": "quantitative", "scale": {"domain": [-0.2, 0.5], "nice": false, "zero": false},
                 "axis": {"orient": "left", "values": [-0.2,-0.1,0,0.1,0.2,0.3,0.4,0.5], "format": "~g", "title": "Im T", "tickSize": -9, "labelPadding": 16, "titleX": -44, "titleY": 2, "titleAngle": -90, "titleAlign": "right", "titleBaseline": "alphabetic"}}
         }},
        {"data": {"name": "d33im"}, "transform": [{"filter": "datum.err > 0"}], "mark": {"type": "errorbar", "ticks": {"size": 6}, "color": "black", "thickness": 1.5},
         "encoding": {
           "x": {"field": "x", "type": "quantitative", "scale": {"domain": [1, 2.1], "nice": false, "zero": false}, "axis": null},
           "y": {"field": "y", "type": "quantitative", "scale": {"domain": [-0.2, 0.5], "nice": false, "zero": false}, "axis": null},
           "yError": {"field": "err"}
         }},
        {"data": {"name": "d33im_fit"}, "mark": {"type": "line", "color": "red", "strokeWidth": 3, "interpolate": "monotone", "clip": true},
         "encoding": {
           "x": {"field": "x", "type": "quantitative", "scale": {"domain": [1, 2.1], "nice": false, "zero": false},
                 "axis": {"orient": "bottom", "values": [1.05,1.1,1.15,1.2,1.25,1.3,1.35,1.4,1.45,1.5,1.55,1.6,1.65,1.7,1.75,1.8,1.85,1.9,1.95,2,2.05], "labels": false, "domain": false, "title": null, "tickSize": -5}},
           "y": {"field": "y", "type": "quantitative", "scale": {"domain": [-0.2, 0.5], "nice": false, "zero": false},
                 "axis": {"orient": "left", "values": [-0.18,-0.16,-0.14,-0.12,-0.1,-0.08,-0.06,-0.04,-0.02,0,0.02,0.04,0.06,0.08,0.1,0.12,0.14,0.16,0.18,0.2,0.22,0.24,0.26,0.28,0.3,0.32,0.34,0.36,0.38,0.4,0.42,0.44,0.46,0.48], "labels": false, "domain": false, "title": null, "tickSize": -5}}
         }}
      ]
    }
  ]
}
